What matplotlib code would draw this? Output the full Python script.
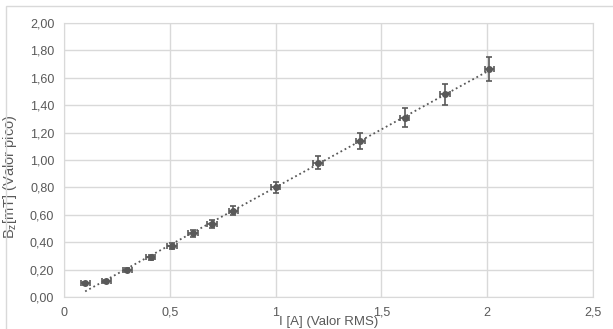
"""
Bz (peak) vs I (RMS) with error bars and a dotted linear trendline, Excel look.
"""
import numpy as np
import matplotlib
matplotlib.use("Agg")
import matplotlib.pyplot as plt
from matplotlib.patches import Rectangle
from matplotlib.ticker import FuncFormatter

# measured points
CURRENT = [0.10, 0.20, 0.30, 0.41, 0.51, 0.61, 0.70, 0.80, 1.00, 1.20, 1.40, 1.61, 1.80, 2.01]
BZ = [0.10, 0.115, 0.195, 0.29, 0.37, 0.465, 0.535, 0.63, 0.80, 0.98, 1.14, 1.31, 1.48, 1.665]
BZ_ERR = [0.010, 0.012, 0.015, 0.018, 0.022, 0.025, 0.028, 0.032, 0.040, 0.048, 0.058, 0.067, 0.078, 0.088]
I_ERR = [0.022] * len(CURRENT)

XTICKS = [0, 0.5, 1, 1.5, 2, 2.5]
YTICKS = [0.0, 0.2, 0.4, 0.6, 0.8, 1.0, 1.2, 1.4, 1.6, 1.8, 2.0]

TXT = "#595959"
GRID = "#d9d9d9"
MARK = "#595959"

plt.rcParams["font.family"] = ["Liberation Sans", "DejaVu Sans"]

fig = plt.figure(figsize=(6.13, 3.29), dpi=100)
# outer chart frame
fig.patches.append(Rectangle((6 / 613, -0.1), 1.1, 1 - 6 / 329 + 0.1, transform=fig.transFigure,
                             fill=False, edgecolor=GRID, lw=1))
ax = fig.add_axes([64 / 613, 1 - 297 / 329, (593 - 64) / 613, (297 - 23) / 329])

ax.errorbar(CURRENT, BZ, yerr=BZ_ERR, xerr=I_ERR, fmt="o", ms=4, color=MARK,
            ecolor=MARK, elinewidth=1.2, capsize=2.5, capthick=1.2, zorder=3)

# linear trendline (dotted)
k, b = np.polyfit(CURRENT, BZ, 1)
xs = np.array([CURRENT[0], CURRENT[-1]])
ax.plot(xs, k * xs + b, ls=(0, (1, 1.6)), color="#595959", lw=1.3, zorder=2)

ax.set_xlim(0, 2.5)
ax.set_ylim(0, 2.0)
ax.set_xticks(XTICKS)
ax.set_yticks(YTICKS)
ax.xaxis.set_major_formatter(FuncFormatter(lambda v, p: f"{v:g}".replace(".", ",")))
ax.yaxis.set_major_formatter(FuncFormatter(lambda v, p: f"{v:.2f}".replace(".", ",")))
ax.tick_params(length=0, labelsize=9, colors=TXT, pad=7)
ax.grid(True, color=GRID, lw=1)
ax.set_axisbelow(True)
for s in ax.spines.values():
    s.set_color(GRID)

ax.set_ylabel("B$_\\mathregular{z}$[mT] (Valor pico)", fontsize=10.5, color=TXT)
ax.yaxis.set_label_coords(-0.085, 0.44)
ax.set_xlabel("I [A] (Valor RMS)", fontsize=9.5, color=TXT, va="baseline")
ax.xaxis.set_label_coords(0.5, -0.103)

fig.savefig("out.png", dpi=100)
